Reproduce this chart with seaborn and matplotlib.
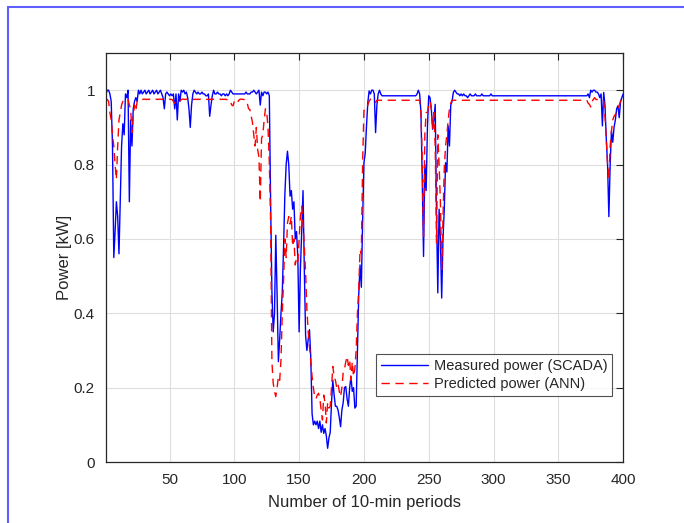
import numpy as np
import matplotlib
matplotlib.use("Agg")
import matplotlib.pyplot as plt
import seaborn as sns
from matplotlib.lines import Line2D
from matplotlib.ticker import FuncFormatter

# measured power (SCADA), one value per 10-min period (1..400)
measured = [
    0.99, 1.0, 1.0, 0.99, 0.97, 0.85, 0.55, 0.62, 0.70, 0.66,
    0.56, 0.70, 0.85, 0.91, 0.88, 0.99, 0.98, 1.0, 0.70, 0.92,
    0.85, 0.95, 0.97, 0.98, 0.97, 1.0, 0.99, 1.0, 0.99, 0.995,
    1.0, 0.99, 0.995, 1.0, 0.99, 0.995, 1.0, 0.99, 0.995, 1.0,
    0.99, 0.995, 1.0, 0.99, 0.98, 0.95, 0.99, 0.995, 0.99, 0.985,
    0.99, 0.985, 0.99, 0.95, 0.99, 0.92, 0.99, 0.97, 1.0, 0.995,
    1.0, 0.99, 0.995, 0.98, 0.95, 0.90, 0.96, 0.99, 1.0, 0.995,
    0.99, 0.995, 0.99, 0.99, 0.995, 0.99, 0.99, 0.985, 0.985, 0.99,
    0.93, 0.96, 0.985, 1.0, 0.99, 0.99, 0.995, 0.99, 0.99, 0.985,
    0.99, 0.99, 0.985, 0.99, 0.985, 0.99, 1.0, 0.995, 0.99, 0.99,
    0.99, 0.99, 0.99, 0.99, 0.99, 0.99, 0.99, 0.99, 0.995, 0.99,
    0.99, 0.99, 0.995, 0.995, 1.0, 0.995, 0.99, 0.995, 1.0, 0.96,
    0.995, 0.985, 0.995, 0.995, 0.99, 0.995, 0.985, 0.70, 0.46, 0.35,
    0.40, 0.61, 0.45, 0.27, 0.33, 0.40, 0.455, 0.58, 0.72, 0.80,
    0.836, 0.80, 0.715, 0.73, 0.68, 0.70, 0.60, 0.62, 0.55, 0.35,
    0.52, 0.62, 0.73, 0.52, 0.34, 0.30, 0.33, 0.356, 0.28, 0.13,
    0.10, 0.11, 0.10, 0.11, 0.09, 0.11, 0.08, 0.10, 0.077, 0.09,
    0.07, 0.037, 0.065, 0.08, 0.16, 0.22, 0.18, 0.15, 0.15, 0.14,
    0.12, 0.095, 0.14, 0.16, 0.20, 0.203, 0.17, 0.15, 0.20, 0.23,
    0.19, 0.20, 0.145, 0.15, 0.30, 0.45, 0.53, 0.47, 0.65, 0.805,
    0.83, 0.904, 0.967, 0.998, 0.99, 1.0, 1.0, 0.99, 0.886, 0.96,
    0.99, 1.0, 0.99, 0.985, 0.985, 0.985, 0.985, 0.985, 0.985, 0.985,
    0.985, 0.985, 0.985, 0.985, 0.985, 0.985, 0.985, 0.985, 0.985, 0.985,
    0.985, 0.985, 0.985, 0.985, 0.985, 0.985, 0.985, 0.985, 0.985, 0.985,
    0.99, 1.0, 0.99, 0.94, 0.76, 0.553, 0.80, 0.73, 0.90, 0.985,
    0.98, 0.95, 0.895, 0.92, 0.962, 0.67, 0.455, 0.68, 0.60, 0.441,
    0.60, 0.68, 0.805, 0.78, 0.904, 0.85, 0.96, 0.97, 0.994, 1.0,
    0.995, 0.99, 0.99, 0.985, 0.99, 0.985, 0.99, 0.985, 0.985, 0.98,
    0.985, 0.99, 0.985, 0.985, 0.985, 0.99, 0.985, 0.985, 0.985, 0.985,
    0.99, 0.985, 0.985, 0.985, 0.985, 0.985, 0.985, 0.99, 0.985, 0.985,
    0.985, 0.985, 0.985, 0.985, 0.985, 0.985, 0.985, 0.985, 0.985, 0.985,
    0.985, 0.985, 0.985, 0.985, 0.985, 0.985, 0.985, 0.985, 0.985, 0.985,
    0.985, 0.985, 0.985, 0.985, 0.985, 0.985, 0.985, 0.985, 0.985, 0.985,
    0.985, 0.985, 0.985, 0.985, 0.985, 0.985, 0.985, 0.985, 0.985, 0.985,
    0.985, 0.985, 0.985, 0.985, 0.985, 0.985, 0.985, 0.985, 0.985, 0.985,
    0.985, 0.985, 0.985, 0.985, 0.985, 0.985, 0.985, 0.985, 0.985, 0.985,
    0.985, 0.985, 0.985, 0.985, 0.985, 0.985, 0.985, 0.985, 0.985, 0.985,
    0.985, 0.985, 0.99, 0.98, 1.0, 0.995, 1.0, 1.0, 0.995, 0.995,
    0.99, 0.98, 0.99, 0.904, 0.994, 0.96, 0.87, 0.80, 0.66, 0.80,
    0.89, 0.86, 0.90, 0.92, 0.95, 0.958, 0.926, 0.97, 0.98, 0.99,
]

# predicted power (ANN)
predicted = [
    0.975, 0.975, 0.97, 0.94, 0.92, 0.88, 0.85, 0.80, 0.76, 0.85,
    0.92, 0.94, 0.96, 0.97, 0.975, 0.976, 0.976, 0.975, 0.96, 0.95,
    0.886, 0.93, 0.96, 0.944, 0.97, 0.975, 0.976, 0.976, 0.975, 0.976,
    0.976, 0.975, 0.976, 0.975, 0.976, 0.976, 0.975, 0.976, 0.975, 0.976,
    0.975, 0.976, 0.976, 0.975, 0.976, 0.975, 0.976, 0.975, 0.975, 0.976,
    0.975, 0.975, 0.97, 0.965, 0.965, 0.965, 0.966, 0.97, 0.975, 0.976,
    0.976, 0.975, 0.976, 0.975, 0.976, 0.975, 0.976, 0.976, 0.975, 0.976,
    0.975, 0.976, 0.975, 0.976, 0.975, 0.974, 0.975, 0.976, 0.975, 0.976,
    0.975, 0.976, 0.975, 0.976, 0.976, 0.975, 0.976, 0.975, 0.976, 0.975,
    0.976, 0.975, 0.976, 0.975, 0.974, 0.975, 0.97, 0.96, 0.958, 0.97,
    0.975, 0.976, 0.97, 0.975, 0.976, 0.976, 0.975, 0.975, 0.974, 0.965,
    0.95, 0.948, 0.93, 0.913, 0.88, 0.85, 0.90, 0.84, 0.82, 0.70,
    0.87, 0.88, 0.92, 0.95, 0.94, 0.90, 0.805, 0.65, 0.27, 0.212,
    0.19, 0.176, 0.20, 0.23, 0.22, 0.275, 0.40, 0.49, 0.60, 0.55,
    0.643, 0.66, 0.64, 0.661, 0.58, 0.60, 0.53, 0.55, 0.54, 0.60,
    0.66, 0.688, 0.64, 0.58, 0.508, 0.41, 0.35, 0.31, 0.27, 0.23,
    0.20, 0.176, 0.17, 0.18, 0.185, 0.17, 0.14, 0.113, 0.18, 0.16,
    0.105, 0.16, 0.145, 0.15, 0.20, 0.257, 0.23, 0.22, 0.20, 0.21,
    0.19, 0.176, 0.20, 0.24, 0.25, 0.27, 0.284, 0.26, 0.275, 0.22,
    0.27, 0.23, 0.25, 0.30, 0.40, 0.464, 0.571, 0.56, 0.805, 0.945,
    0.95, 0.949, 0.96, 0.97, 0.976, 0.976, 0.975, 0.973, 0.967, 0.973,
    0.973, 0.973, 0.973, 0.973, 0.973, 0.973, 0.973, 0.973, 0.973, 0.973,
    0.973, 0.973, 0.973, 0.973, 0.973, 0.973, 0.973, 0.973, 0.973, 0.973,
    0.973, 0.973, 0.973, 0.973, 0.973, 0.973, 0.973, 0.973, 0.973, 0.973,
    0.973, 0.973, 0.973, 0.94, 0.814, 0.607, 0.88, 0.94, 0.94, 0.96,
    0.97, 0.95, 0.895, 0.94, 0.85, 0.589, 0.88, 0.80, 0.70, 0.518,
    0.65, 0.79, 0.85, 0.88, 0.92, 0.95, 0.965, 0.973, 0.973, 0.973,
    0.973, 0.973, 0.973, 0.973, 0.973, 0.973, 0.973, 0.973, 0.973, 0.973,
    0.973, 0.973, 0.973, 0.973, 0.973, 0.973, 0.973, 0.973, 0.973, 0.973,
    0.973, 0.973, 0.973, 0.973, 0.973, 0.973, 0.973, 0.973, 0.973, 0.973,
    0.973, 0.973, 0.973, 0.973, 0.973, 0.973, 0.973, 0.973, 0.973, 0.973,
    0.973, 0.973, 0.973, 0.973, 0.973, 0.973, 0.973, 0.973, 0.973, 0.973,
    0.973, 0.973, 0.973, 0.973, 0.973, 0.973, 0.973, 0.973, 0.973, 0.973,
    0.973, 0.973, 0.973, 0.973, 0.973, 0.973, 0.973, 0.973, 0.973, 0.973,
    0.973, 0.973, 0.973, 0.973, 0.973, 0.973, 0.973, 0.973, 0.973, 0.973,
    0.973, 0.973, 0.973, 0.973, 0.973, 0.973, 0.973, 0.973, 0.973, 0.973,
    0.973, 0.973, 0.973, 0.973, 0.973, 0.973, 0.973, 0.973, 0.973, 0.973,
    0.973, 0.973, 0.965, 0.962, 0.955, 0.97, 0.975, 0.98, 0.975, 0.975,
    0.975, 0.975, 0.975, 0.975, 0.97, 0.93, 0.868, 0.80, 0.76, 0.85,
    0.89, 0.92, 0.93, 0.935, 0.94, 0.95, 0.96, 0.97, 0.976, 0.976,
]

x_ticks = [50, 100, 150, 200, 250, 300, 350, 400]
y_ticks = [0, 0.2, 0.4, 0.6, 0.8, 1.0]

periods = np.arange(1, len(measured) + 1)

sns.set_style("white")
plt.rcParams['font.family'] = ['Liberation Sans', 'DejaVu Sans']

fig = plt.figure(figsize=(6.84, 5.23), dpi=100)
ax = fig.add_axes([0.155, 0.1166, 0.756, 0.782])

sns.lineplot(x=periods, y=measured, ax=ax, color='#0000ff', linewidth=1.0,
             label='Measured power (SCADA)')
sns.lineplot(x=periods, y=predicted, ax=ax, color='#ff0000', linewidth=1.0,
             linestyle=(0, (6, 4)), label='Predicted power (ANN)')

ax.set_xlim(1, 400)
ax.set_ylim(0, 1.1)
ax.set_xticks(x_ticks)
ax.set_yticks(y_ticks)
ax.yaxis.set_major_formatter(FuncFormatter(lambda v, _: f"{v:g}"))

ax.grid(True, color='#dedede', linewidth=0.8)
ax.set_axisbelow(True)
for s in ax.spines.values():
    s.set_color('#262626')
    s.set_linewidth(0.9)
ax.tick_params(direction='in', length=5, width=0.8, colors='#262626',
               labelsize=11, top=True, right=True, pad=8)

ax.set_xlabel('Number of 10-min periods', fontsize=12, color='#262626', labelpad=6)
ax.set_ylabel('Power [kW]', fontsize=12, color='#262626', labelpad=1)

leg = ax.legend(loc='lower left', bbox_to_anchor=(0.522, 0.161, 0.457, 0.108),
                mode='expand', fontsize=10.5, frameon=True, fancybox=False,
                borderaxespad=0, handlelength=3.2, handletextpad=0.4,
                labelspacing=0.25, borderpad=0.35)
leg.get_frame().set_edgecolor('#262626')
leg.get_frame().set_linewidth(0.8)

# blue frame of the original screenshot
fig.add_artist(Line2D([0.0117, 0.0117], [0.0, 0.9866], color='#5f5fff', linewidth=1.5))
fig.add_artist(Line2D([0.0117, 1.0], [0.9866, 0.9866], color='#5f5fff', linewidth=1.5))

fig.savefig('out.png', dpi=100)
